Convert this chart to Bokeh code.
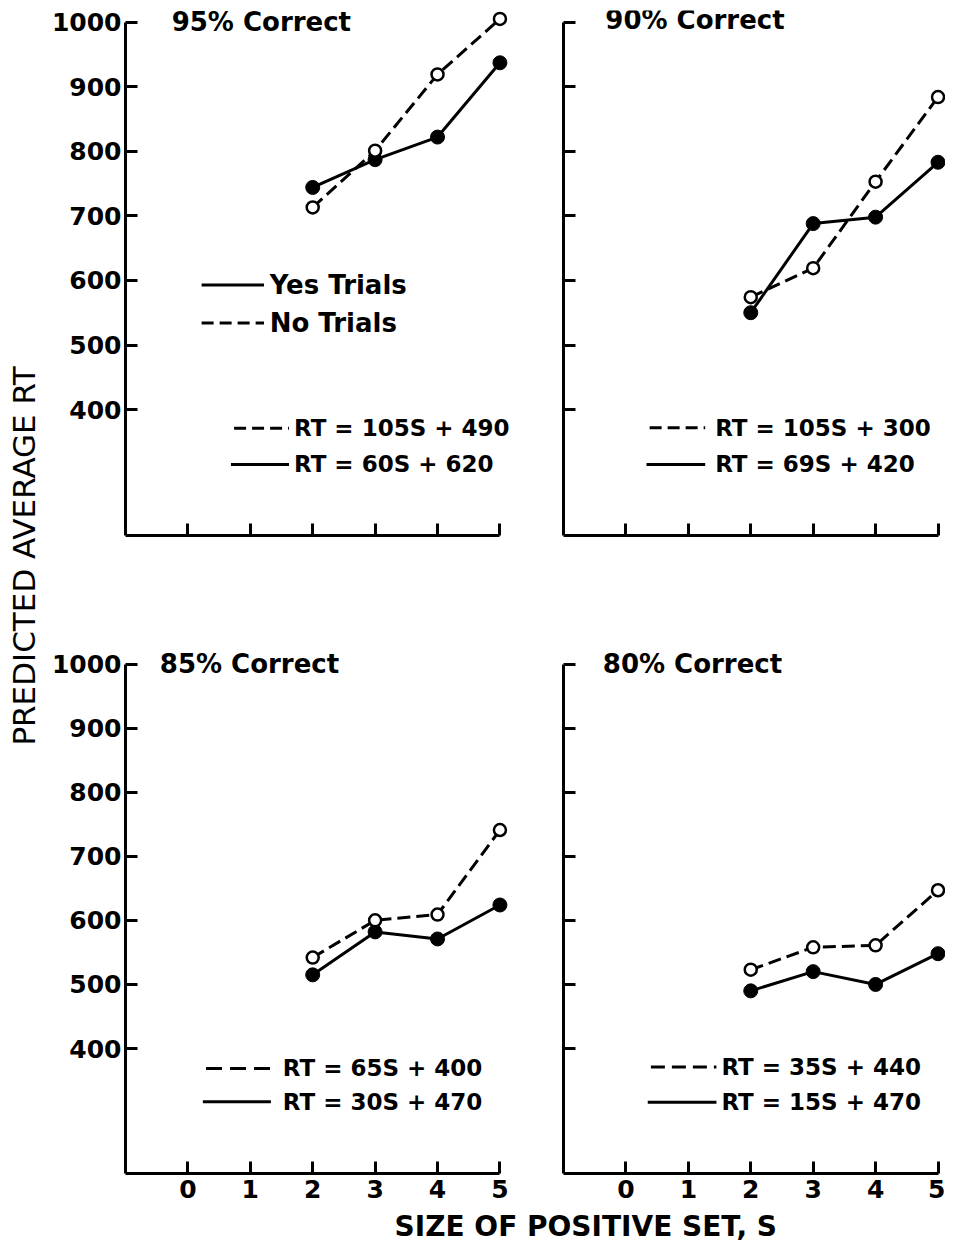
import math
from bokeh.plotting import figure
from bokeh.models import GridBox, Label, FixedTicker, Range1d
from bokeh.embed import file_html
from bokeh.resources import INLINE

# ---------------- data ----------------
set_size = [2, 3, 4, 5]
panel_titles = ["95% Correct", "90% Correct", "85% Correct", "80% Correct"]
yes_95 = [744, 787, 822, 937]
no_95 = [713, 801, 919, 1005]
yes_90 = [550, 688, 698, 783]
no_90 = [574, 619, 753, 884]
yes_85 = [515, 582, 571, 624]
no_85 = [542, 600, 609, 741]
yes_80 = [490, 520, 500, 548]
no_80 = [523, 558, 561, 647]
eq_no = ["RT = 105S + 490", "RT = 105S + 300", "RT = 65S + 400", "RT = 35S + 440"]
eq_yes = ["RT = 60S + 620", "RT = 69S + 420", "RT = 30S + 470", "RT = 15S + 470"]
legend_labels = ["Yes Trials", "No Trials"]
y_ticks = [400, 500, 600, 700, 800, 900, 1000]
x_ticks = [0, 1, 2, 3, 4, 5]
y_label = "PREDICTED AVERAGE RT"
x_label = "SIZE OF POSITIVE SET, S"

FONT = "DejaVu Sans"


def make_panel(title, yes, no, eqn, eqy, cfg):
    p = figure(frame_width=cfg["fw"], frame_height=cfg["fh"],
               x_range=Range1d(-1.0, cfg["xmax"]), y_range=Range1d(205, 1018),
               toolbar_location=None, output_backend="svg",
               min_border_left=cfg["bl"], min_border_right=cfg["br"],
               min_border_top=cfg["bt"], min_border_bottom=cfg["bb"],
               background_fill_color="white", border_fill_color="white")
    p.outline_line_color = None
    p.grid.visible = False
    for ax in (p.xaxis[0], p.yaxis[0]):
        ax.axis_line_width = 3
        ax.axis_line_color = "black"
        ax.major_tick_line_width = 3
        ax.major_tick_line_color = "black"
        ax.major_tick_in = 12
        ax.major_tick_out = 0
        ax.minor_tick_line_color = None
        ax.major_label_text_font = FONT
        ax.major_label_text_font_style = "bold"
        ax.major_label_text_font_size = "25px"
        ax.major_label_text_color = "black"
    p.yaxis.ticker = FixedTicker(ticks=y_ticks)
    p.xaxis.ticker = FixedTicker(ticks=x_ticks)
    p.yaxis.bounds = (205, 1000)
    p.xaxis.bounds = (-1.0, 5.0)
    p.yaxis.major_label_standoff = 4
    p.xaxis.major_label_standoff = 6
    if not cfg["ylabels"]:
        p.yaxis.major_label_overrides = {t: "" for t in y_ticks}
    if not cfg["xlabels"]:
        p.xaxis.major_label_overrides = {t: "" for t in x_ticks}

    # data
    p.line(set_size, no, line_width=3, color="black", line_dash="13 6")
    p.line(set_size, yes, line_width=3, color="black")
    p.scatter(set_size, yes, size=14, fill_color="black", line_color="black")
    p.scatter(set_size, no, size=12, fill_color="white", line_color="black", line_width=2.5)

    # title
    p.add_layout(Label(x=cfg["tx"], y=cfg["ty"], text=title, text_font=FONT,
                       text_font_style="bold", text_font_size="26px",
                       text_baseline="middle", text_align="left", text_color="black"))
    # equations
    x0, x1, xt, yn, yy, dash = cfg["eq"]
    p.segment(x0=[x0], y0=[yn], x1=[x1], y1=[yn], line_width=3, color="black", line_dash=dash)
    p.segment(x0=[x0 - 0.05], y0=[yy], x1=[x1], y1=[yy], line_width=3, color="black")
    for txt, yv in ((eqn, yn), (eqy, yy)):
        p.add_layout(Label(x=xt, y=yv, text=txt, text_font=FONT, text_font_style="bold",
                           text_font_size="23px", text_baseline="middle",
                           text_align="left", text_color="black"))
    if cfg.get("legend"):
        p.segment(x0=[0.22], y0=[593], x1=[1.22], y1=[593], line_width=3, color="black")
        p.segment(x0=[0.22], y0=[534], x1=[1.22], y1=[534], line_width=3, color="black",
                  line_dash="12 6")
        for txt, yv in zip(legend_labels, (593, 534)):
            p.add_layout(Label(x=1.31, y=yv, text=txt, text_font=FONT, text_font_style="bold",
                               text_font_size="26px", text_baseline="middle",
                               text_align="left", text_color="black"))
    return p


common_left = dict(fw=406, xmax=5.506, bl=85, br=6, ylabels=True)
common_right = dict(fw=382, xmax=5.12, bl=26, br=0, ylabels=False)
top = dict(fh=525, bt=10, bb=40, xlabels=False)
bottom = dict(fh=521, bt=77, bb=36, xlabels=True)

tl = make_panel(panel_titles[0], yes_95, no_95, eq_no[0], eq_yes[0],
                dict(**common_left, **top, tx=-0.26, ty=1000,
                     eq=(0.74, 1.62, 1.70, 371, 315, "12 6"), legend=True))
tr = make_panel(panel_titles[1], yes_90, no_90, eq_no[1], eq_yes[1],
                dict(**common_right, **top, tx=-0.33, ty=1003,
                     eq=(0.38, 1.27, 1.43, 372, 315, "12 6")))
bl = make_panel(panel_titles[2], yes_85, no_85, eq_no[2], eq_yes[2],
                dict(**common_left, **bottom, tx=-0.45, ty=1000,
                     eq=(0.29, 1.33, 1.52, 369, 317, "16 8")))
br = make_panel(panel_titles[3], yes_80, no_80, eq_no[3], eq_yes[3],
                dict(**common_right, **bottom, tx=-0.37, ty=1000,
                     eq=(0.40, 1.45, 1.53, 371, 316, "14 7")))

# shared axis titles
YW = 40
YH = (10 + 525 + 40) + (77 + 521 + 36)
ylab = figure(width=YW, height=YH, x_range=(0, YW), y_range=(0, YH),
              toolbar_location=None, output_backend="svg", min_border=0,
              x_axis_location=None, y_axis_location=None)
ylab.outline_line_color = None
ylab.grid.visible = False
ylab.add_layout(Label(x=23, y=YH - 567, text=y_label, angle=math.pi / 2,
                      text_font=FONT, text_font_size="31px", text_align="center",
                      text_baseline="middle", text_color="black"))

XW = (85 + 406 + 6) + (26 + 382)
XH = 38
xlab = figure(width=XW, height=XH, x_range=(0, XW), y_range=(0, XH),
              toolbar_location=None, output_backend="svg", min_border=0,
              x_axis_location=None, y_axis_location=None)
xlab.outline_line_color = None
xlab.grid.visible = False
xlab.add_layout(Label(x=508, y=XH - 17, text=x_label, text_font=FONT, text_font_style="bold",
                      text_font_size="28px", text_align="center",
                      text_baseline="middle", text_color="black"))

layout = GridBox(children=[(ylab, 0, 0, 2, 1), (tl, 0, 1), (tr, 0, 2),
                           (bl, 1, 1), (br, 1, 2), (xlab, 2, 1, 1, 2)], spacing=0)

open("out.html", "w").write(file_html(layout, INLINE))
